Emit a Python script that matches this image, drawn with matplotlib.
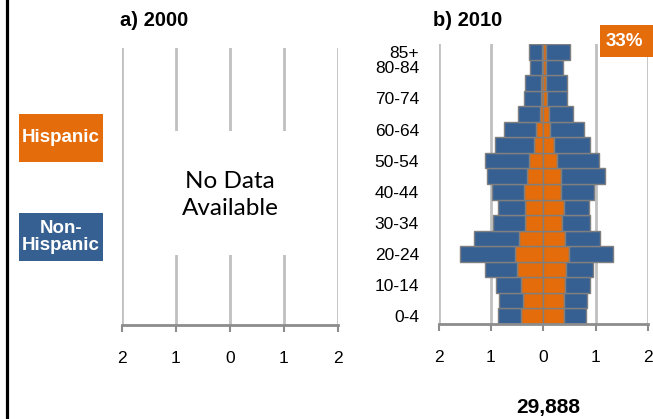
import matplotlib
matplotlib.use("Agg")
import matplotlib.pyplot as plt
from matplotlib.patches import Rectangle
from matplotlib.lines import Line2D

# ---------------- data ----------------
age_groups = ["0-4", "5-9", "10-14", "15-19", "20-24", "25-29", "30-34", "35-39",
              "40-44", "45-49", "50-54", "55-59", "60-64", "65-69", "70-74",
              "75-79", "80-84", "85+"]
# 2010, percent of total population (left side / right side)
hisp_left = [0.43, 0.39, 0.43, 0.50, 0.54, 0.46, 0.34, 0.34, 0.37, 0.31, 0.27,
             0.17, 0.13, 0.07, 0.045, 0.04, 0.015, 0.02]
hisp_right = [0.39, 0.40, 0.42, 0.44, 0.49, 0.42, 0.36, 0.39, 0.34, 0.34, 0.27,
              0.20, 0.13, 0.11, 0.08, 0.06, 0.045, 0.045]
nonhisp_left = [0.43, 0.46, 0.47, 0.61, 1.05, 0.86, 0.61, 0.52, 0.60, 0.77, 0.84,
                0.76, 0.61, 0.41, 0.315, 0.30, 0.235, 0.25]
nonhisp_right = [0.42, 0.43, 0.48, 0.51, 0.85, 0.67, 0.53, 0.49, 0.63, 0.84, 0.79,
                 0.70, 0.65, 0.46, 0.38, 0.39, 0.325, 0.465]
ytick_labels = ["0-4", "10-14", "20-24", "30-34", "40-44", "50-54", "60-64",
                "70-74", "80-84", "85+"]
ytick_idx = [0, 2, 4, 6, 8, 10, 12, 14, 16, 17]
xticks = [-2, -1, 0, 1, 2]
xtick_labels = ["2", "1", "0", "1", "2"]
hispanic_share = "33%"
total_pop = "29,888"

ORANGE = "#E46C0A"
BLUE = "#376092"
EDGE = "#7F7F7F"
GRID = "#C0C0C0"
AXIS = "#8C8C8C"

plt.rcParams['font.family'] = ['Liberation Sans', 'DejaVu Sans']

W, H = 653, 419
fig = plt.figure(figsize=(W / 100, H / 100), dpi=100)


def ax_rect(x0, x1, ytop, ybot):
    return [x0 / W, (H - ybot) / H, (x1 - x0) / W, (ybot - ytop) / H]


def style_axis(ax):
    ax.set_xlim(-2, 2)
    ax.set_ylim(-0.5, len(age_groups) - 0.5)
    for s in ["top", "left", "right"]:
        ax.spines[s].set_visible(False)
    ax.spines["bottom"].set_color(AXIS)
    ax.spines["bottom"].set_linewidth(2)
    ax.set_xticks(xticks)
    ax.set_xticklabels(xtick_labels, fontsize=12.5)
    ax.tick_params(axis="x", length=5, width=1.5, color=AXIS, pad=14)
    for x in xticks:
        ax.axvline(x, color=GRID, lw=2, zorder=0)


# ---------- panel a ----------
axa = fig.add_axes(ax_rect(122, 338, 48, 325))
style_axis(axa)
axa.set_yticks([])
axa.add_patch(Rectangle((-1.5, 0.253), 3.0, 0.447, transform=axa.get_xaxis_transform(),
                        facecolor="white", edgecolor="none", zorder=1))
axa.text(0, 0.47, "No Data\nAvailable", transform=axa.get_xaxis_transform(),
         ha="center", va="center", fontsize=17.5, family=["Lato", "DejaVu Sans"],
         linespacing=1.38, zorder=2)
fig.text(120 / W, 1 - 21 / H, "a) 2000", fontsize=14.5, fontweight="bold",
         ha="left", va="center")

# ---------- panel b ----------
axb = fig.add_axes(ax_rect(438.5, 648, 44, 324))
style_axis(axb)
y = list(range(len(age_groups)))
axb.barh(y, [-v for v in hisp_left], height=1.0, color=ORANGE, edgecolor=EDGE,
         linewidth=1, zorder=2)
axb.barh(y, hisp_right, height=1.0, color=ORANGE, edgecolor=EDGE, linewidth=1, zorder=2)
axb.barh(y, [-v for v in nonhisp_left], left=[-v for v in hisp_left], height=1.0,
         color=BLUE, edgecolor=EDGE, linewidth=1, zorder=2)
axb.barh(y, nonhisp_right, left=hisp_right, height=1.0, color=BLUE, edgecolor=EDGE,
         linewidth=1, zorder=2)
axb.set_yticks(ytick_idx)
axb.set_yticklabels(ytick_labels, fontsize=12.5)
axb.tick_params(axis="y", length=0, pad=14)
fig.text(433 / W, 1 - 21 / H, "b) 2010", fontsize=14.5, fontweight="bold",
         ha="left", va="center")

# 33% box
fig.patches.append(Rectangle((600 / W, 1 - 57 / H), 55 / W, 32 / H, transform=fig.transFigure,
                             facecolor=ORANGE, edgecolor="none"))
fig.text(624 / W, 1 - 41 / H, hispanic_share, color="white", fontsize=13.5,
         fontweight="bold", ha="center", va="center")

# total
fig.text(548 / W, 1 - 407 / H, total_pop, fontsize=15, fontweight="bold",
         ha="center", va="center")

# legend boxes
fig.patches.append(Rectangle((19 / W, 1 - 162 / H), 84 / W, 48 / H, transform=fig.transFigure,
                             facecolor=ORANGE, edgecolor="none"))
fig.text(61 / W, 1 - 138 / H, "Hispanic", color="white", fontsize=13.5,
         fontweight="bold", ha="center", va="center")
fig.patches.append(Rectangle((19 / W, 1 - 261 / H), 84 / W, 48 / H, transform=fig.transFigure,
                             facecolor=BLUE, edgecolor="none"))
fig.text(61 / W, 1 - 237 / H, "Non-\nHispanic", color="white", fontsize=13.5,
         fontweight="bold", ha="center", va="center", linespacing=1.0)

# left black border line
fig.add_artist(Line2D([6.5 / W, 6.5 / W], [0, 1], transform=fig.transFigure,
                      color="black", lw=2.3))

fig.savefig("out.png", dpi=100)
